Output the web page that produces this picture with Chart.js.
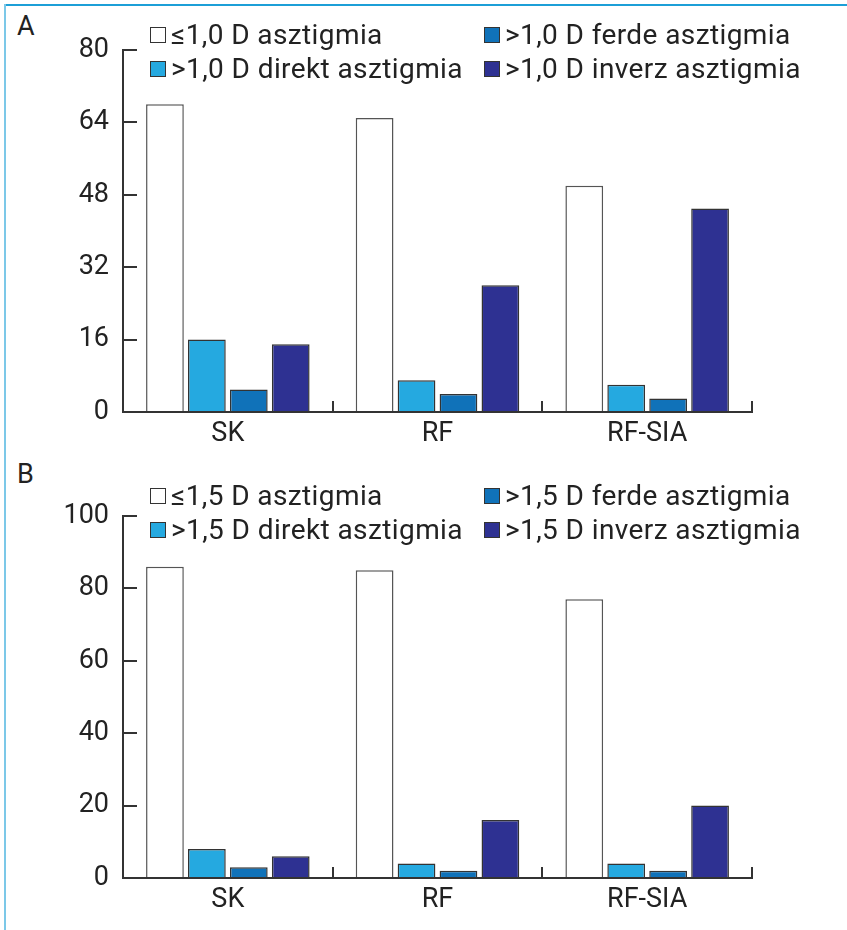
<!DOCTYPE html>
<html>
<head>
<meta charset="utf-8">
<script src="https://cdn.jsdelivr.net/npm/chart.js@4/dist/chart.umd.min.js"></script>
<style>
  body { margin: 0; background: #fff; }
  #page { position: relative; width: 847px; height: 930px; overflow: hidden; font-family: Roboto, "Liberation Sans", sans-serif; color: #222; }
  #frameTop { position: absolute; left: 4px; top: 4px; width: 843px; height: 2px; background: #1c9fd7; }
  #frameLeft { position: absolute; left: 4px; top: 4px; width: 2px; height: 926px; background: #7cc8e8; }
  .panel { position: absolute; left: 17px; font-size: 27px; }
  .chartBox { position: absolute; left: 0; width: 847px; }
  .leg { position: absolute; display: flex; align-items: center; font-size: 28px; letter-spacing: 0.4px; white-space: nowrap; }
  .leg span.box { display: inline-block; width: 14px; height: 14px; border: 1.5px solid #333; margin-right: 5px; }
</style>
</head>
<body>
<div id="page">
  <div id="frameTop"></div>
  <div id="frameLeft"></div>
  <div class="panel" style="top:10px">A</div>
  <div class="panel" style="top:458px">B</div>
  <div class="chartBox" style="top:0;height:460px"><canvas id="chartA" width="847" height="460"></canvas></div>
  <div class="chartBox" style="top:460px;height:470px"><canvas id="chartB" width="847" height="470"></canvas></div>
</div>
<script>
// categories
const categories = ['SK', 'RF', 'RF-SIA'];

// panel A (1,0 D)
const labelsA = ['≤1,0 D asztigmia', '>1,0 D direkt asztigmia', '>1,0 D ferde asztigmia', '>1,0 D inverz asztigmia'];
const le10 = [68, 65, 50];
const direkt10 = [16, 7, 6];
const ferde10 = [5, 4, 3];
const inverz10 = [15, 28, 45];

// panel B (1,5 D)
const labelsB = ['≤1,5 D asztigmia', '>1,5 D direkt asztigmia', '>1,5 D ferde asztigmia', '>1,5 D inverz asztigmia'];
const le15 = [86, 85, 77];
const direkt15 = [8, 4, 4];
const ferde15 = [3, 2, 2];
const inverz15 = [6, 16, 20];

const colors = ['#ffffff', '#25a9e0', '#1072b9', '#2e3192'];
const borders = ['#555555', '#333333', '#333333', '#333333'];

const font = { family: 'Roboto, "Liberation Sans", sans-serif', size: 27 };

function makeChart(id, labels, series, max, step, padTop, xHeight) {
    const datasets = series.map((data, i) => ({
        label: labels[i],
        data: data,
        backgroundColor: colors[i],
        borderColor: borders[i],
        borderWidth: 1.5,
        borderSkipped: 'bottom',
        categoryPercentage: 0.8,
        barPercentage: 0.9,
    }));
    return new Chart(document.getElementById(id), {
        type: 'bar',
        data: { labels: categories, datasets: datasets },
        options: {
            responsive: false,
            animation: false,
            layout: { padding: { top: padTop, right: 95, left: 0, bottom: 0 } },
            plugins: { legend: { display: false }, tooltip: { enabled: false } },
            scales: {
                x: {
                    grid: { drawOnChartArea: false, drawTicks: true, tickLength: -11, color: '#333', lineWidth: 2 },
                    border: { color: '#333', width: 2 },
                    ticks: { font: font, color: '#222', padding: 17 },
                    afterFit: (s) => { s.height = xHeight; },
                },
                y: {
                    min: 0,
                    max: max,
                    grid: { drawOnChartArea: false, drawTicks: true, tickLength: -14, color: '#333', lineWidth: 2 },
                    border: { color: '#333', width: 2 },
                    ticks: { stepSize: step, font: font, color: '#222', padding: 28 },
                    afterFit: (s) => { s.width = 123; },
                },
            },
        },
    });
}

// legends, two columns
function makeLegend(labels, top) {
    const page = document.getElementById('page');
    labels.forEach((text, i) => {
        const col = Math.floor(i / 2);
        const row = i % 2;
        const div = document.createElement('div');
        div.className = 'leg';
        div.style.left = (col === 0 ? 150 : 484) + 'px';
        div.style.top = (top + row * 34) + 'px';
        div.innerHTML = `<span class="box" style="background:${colors[i]}"></span>${text}`;
        page.appendChild(div);
    });
}

makeChart('chartA', labelsA, [le10, direkt10, ferde10, inverz10], 80, 16, 50, 48);
makeChart('chartB', labelsB, [le15, direkt15, ferde15, inverz15], 100, 20, 56, 52);
makeLegend(labelsA, 18);
makeLegend(labelsB, 479);
</script>
</body>
</html>
